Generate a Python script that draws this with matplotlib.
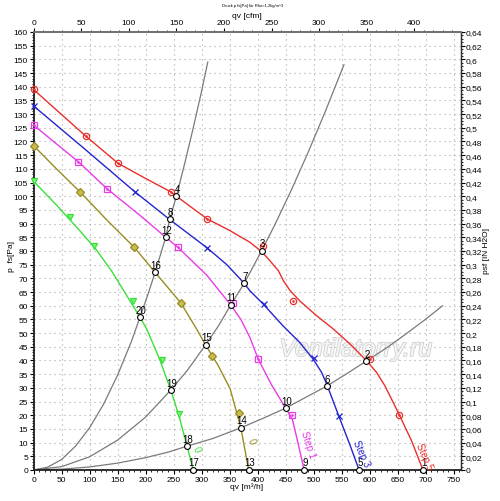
import matplotlib
matplotlib.use('Agg')
import matplotlib.pyplot as plt
import matplotlib.patheffects as pe
from matplotlib.ticker import MultipleLocator, FuncFormatter, FixedLocator

plt.rcParams['font.family'] = ['Liberation Sans', 'DejaVu Sans']

# ---------------- data ----------------
# fan curves: flow qv [m3/h], pressure p [Pa]
step5_q = [0, 93, 151, 200, 245, 255, 310, 350, 386, 407, 422, 437, 446, 458, 475, 505, 535, 565, 594, 612, 627, 652, 675, 695]
step5_p = [139, 122, 112, 106.5, 101.6, 100, 91.7, 87.5, 83.2, 79.8, 76.4, 72.8, 69.1, 65.5, 61.8, 56.4, 51.5, 46, 40, 35.7, 30.8, 20.5, 10.5, 0]
step5_mq = [0, 93, 151, 245, 310, 409, 463, 600, 652]
step5_mp = [139, 122, 112, 101.6, 91.7, 81.8, 61.8, 40.5, 20.2]

step3_q = [0, 90, 181, 243, 310, 345, 376, 386, 410, 445, 475, 499, 514, 523, 545, 565, 581]
step3_p = [133, 117.5, 101.6, 91.5, 81.1, 75, 68.2, 65.5, 60.6, 52.7, 46.6, 40.5, 35.7, 31.5, 19.6, 9, 0]
step3_mq = [0, 181, 310, 411, 501, 545]
step3_mp = [133, 101.6, 81.1, 60.6, 40.8, 19.6]

step1_q = [0, 80, 132, 190, 236, 258, 309, 352, 370, 386, 401, 425, 450, 462, 473, 483]
step1_p = [126, 112.6, 102.6, 93, 85, 81.3, 71.2, 60.3, 55, 48.5, 40.5, 31, 22.6, 18.5, 9, 0]
step1_mq = [0, 80, 132, 258, 356, 401, 462]
step1_mp = [126, 112.6, 102.6, 81.3, 60.9, 40.5, 20.2]

olive_q = [0, 40, 83, 130, 180, 217, 263, 291, 307, 330, 351, 370, 384]
olive_p = [118.5, 110.2, 101.6, 91.5, 81.3, 72.2, 61, 51.5, 45.7, 38, 29.6, 15.4, 0]
olive_mq = [0, 83, 180, 263, 319, 367]
olive_mp = [118.5, 101.6, 81.3, 61, 41.7, 20.8]

green_q = [0, 40, 80, 110, 140, 170, 190, 202, 225, 245, 260, 274, 285]
green_p = [105.5, 97, 88, 81, 72.5, 62.5, 55.8, 51.5, 40.5, 29.2, 19.5, 8.7, 0]
green_mq = [0, 65, 108, 177, 230, 259.5]
green_mp = [105.5, 92.3, 81.9, 61.8, 40.3, 20.5]

# system curves (gray)
sysA_q = [0, 25, 50, 75, 100, 125, 150, 175, 190, 205, 217, 236, 243, 255, 270, 285, 300, 311]
sysA_p = [0, 1, 3.8, 8.7, 15.4, 24, 34.6, 47.1, 55.8, 64.6, 72.2, 85, 91.5, 100, 112.1, 124.9, 138.4, 149]
sysB_q = [0, 50, 100, 150, 200, 245, 275, 307, 330, 352, 376, 407, 430, 460, 490, 520, 554]
sysB_p = [0, 1.2, 4.8, 10.9, 19.3, 29.2, 36.5, 45.7, 52.6, 60.3, 68.2, 80, 89.3, 102.2, 116, 130.6, 148]
sysC_q = [0, 50, 100, 150, 200, 240, 274, 320, 370, 410, 450, 490, 523, 560, 594, 630, 660, 700, 730]
sysC_p = [0, 0.3, 1.1, 2.5, 4.5, 6.5, 8.7, 11.5, 15.4, 18.9, 22.6, 27, 30.6, 35.3, 39.8, 44.6, 49, 55.1, 60]

# operating points
op_labels = ['1', '2', '3', '4', '5', '6', '7', '8', '9', '10',
             '11', '12', '13', '14', '15', '16', '17', '18', '19', '20']
op_q = [695, 594, 407, 255, 581, 523, 376, 243, 483, 450,
        352, 236, 384, 370, 307, 217, 285, 274, 245, 190]
op_p = [0, 39.8, 80, 100, 0, 30.6, 68.2, 91.5, 0, 22.6,
        60.3, 85, 0, 15.4, 45.7, 72.2, 0, 8.7, 29.2, 55.8]

# curve labels
curve_labels = ['Step 5', 'Step 3', 'Step 1', '0', '0']
label_q = [698, 585, 490, 389, 291]
label_p = [5.1, 6.2, 9.5, 10.7, 7.7]
label_rot = [-66, -66, -72, -70, -70]

x_ticks = list(range(0, 751, 50))
y_ticks = list(range(0, 161, 5))
cfm_ticks = list(range(0, 401, 50))
inh2o_ticks = [i * 0.02 for i in range(0, 33)]

# ---------------- style ----------------
RED = '#e8302c'
BLUE = '#2424d0'
MAG = '#e83ce8'
OLIVE = '#9a8c20'
GREEN = '#3ae03a'
GRAY = '#7a7a7a'

fig = plt.figure(figsize=(5, 5.02), dpi=100)
ax = fig.add_axes([0.067, 0.0618, 0.854, 0.8725])
ax.set_xlim(0, 762)
ax.set_ylim(0, 160)

ax.xaxis.set_major_locator(FixedLocator(x_ticks))
ax.xaxis.set_minor_locator(MultipleLocator(10))
ax.yaxis.set_major_locator(FixedLocator(y_ticks))
ax.yaxis.set_minor_locator(MultipleLocator(1))
ax.grid(True, which='major', color='#a8a8a8', linestyle=(0, (1, 3.5)), linewidth=0.8)
ax.set_axisbelow(True)
ax.tick_params(axis='both', which='major', direction='out', length=3, width=0.8,
               labelsize=6, pad=1)
ax.tick_params(axis='both', which='minor', direction='out', length=1.5, width=0.6)
for s in ['left', 'bottom']:
    ax.spines[s].set_linewidth(1.3)
    ax.spines[s].set_color('#202020')
ax.spines['top'].set_color('#707070')
ax.spines['top'].set_linewidth(1.4)
ax.spines['right'].set_color('#303030')
ax.spines['right'].set_linewidth(1.0)

# watermark
ax.text(575, (471 - 350) / 2.738, 'Ventilatorry.ru', fontsize=18, style='italic',
        color='#f6f6f6', ha='center', va='center', zorder=1,
        path_effects=[pe.withStroke(linewidth=1.2, foreground='#cfcfcf')])

# system curves
for q, p in [(sysA_q, sysA_p), (sysB_q, sysB_p), (sysC_q, sysC_p)]:
    ax.plot(q, p, color=GRAY, lw=0.9, zorder=2)

# fan curves
curves = [
    (step5_q, step5_p, step5_mq, step5_mp, RED, 'o', 'none', 4.5),
    (step3_q, step3_p, step3_mq, step3_mp, BLUE, 'x', BLUE, 5),
    (step1_q, step1_p, step1_mq, step1_mp, MAG, 's', 'none', 4.2),
    (olive_q, olive_p, olive_mq, olive_mp, OLIVE, 'D', '#c8bc50', 3.6),
    (green_q, green_p, green_mq, green_mp, GREEN, 'v', '#7cf07c', 4.2),
]
for q, p, mq, mp, c, m, fc, ms in curves:
    ax.plot(q, p, color=c, lw=1.0, zorder=3, clip_on=False)
    ax.plot(mq, mp, linestyle='none', marker=m, markersize=ms,
            markeredgecolor=c, markerfacecolor=fc, markeredgewidth=0.9,
            zorder=4, clip_on=False)
    if m in ('o', 's'):
        ax.plot(mq, mp, linestyle='none', marker='.', markersize=1.8,
                color=c, zorder=4, clip_on=False)

# operating points
ax.plot(op_q, op_p, linestyle='none', marker='o', markersize=4.2,
        markerfacecolor='white', markeredgecolor='black', markeredgewidth=0.8,
        zorder=5, clip_on=False)
for lab, q, p in zip(op_labels, op_q, op_p):
    ax.annotate(lab, (q, p), xytext=(0.5, 1.8), textcoords='offset points',
                ha='center', va='bottom', fontsize=7, color='black', zorder=6)

# curve labels
colors_lab = [RED, BLUE, MAG, OLIVE, GREEN]
for lab, q, p, r, c in zip(curve_labels, label_q, label_p, label_rot, colors_lab):
    ax.text(q, p, lab, color=c, fontsize=7, rotation=r, ha='center', va='center',
            rotation_mode='anchor', zorder=6)

# secondary axes
top = ax.secondary_xaxis('top', functions=(lambda q: q / 1.699, lambda c: c * 1.699))
top.xaxis.set_major_locator(FixedLocator(cfm_ticks))
top.xaxis.set_minor_locator(MultipleLocator(10))
top.tick_params(which='major', length=3, labelsize=6, pad=1)
top.tick_params(which='minor', length=1.5)
top.spines['top'].set_visible(False)

right = ax.secondary_yaxis('right', functions=(lambda p: p / 250.0, lambda h: h * 250.0))
right.yaxis.set_major_locator(FixedLocator(inh2o_ticks))
right.yaxis.set_minor_locator(MultipleLocator(0.005))


def comma_fmt(v, pos):
    s = f"{v:.2f}".rstrip('0').rstrip('.')
    return s.replace('.', ',')


right.yaxis.set_major_formatter(FuncFormatter(comma_fmt))
right.tick_params(which='major', length=3, labelsize=6, pad=1)
right.tick_params(which='minor', length=1.5)

# axis titles
fig.text(253 / 500, 1 - 6.3 / 502, 'Druck p fs[Pa] für Rho=1,2kg/m^3', fontsize=3,
         ha='center', va='center')
fig.text(247 / 500, 1 - 16 / 502, 'qv [cfm]', fontsize=6, ha='center', va='center')
fig.text(247 / 500, 1 - 487 / 502, 'qv [m³/h]', fontsize=6, ha='center', va='center')
fig.text(11.7 / 500, 1 - 257 / 502, 'p  fs[Pa]', fontsize=6, rotation=90,
         ha='center', va='center')
fig.text(487 / 500, 1 - 251 / 502, 'psf [IN H2O]', fontsize=6, rotation=90,
         ha='center', va='center')

fig.savefig('out.png', dpi=100)
